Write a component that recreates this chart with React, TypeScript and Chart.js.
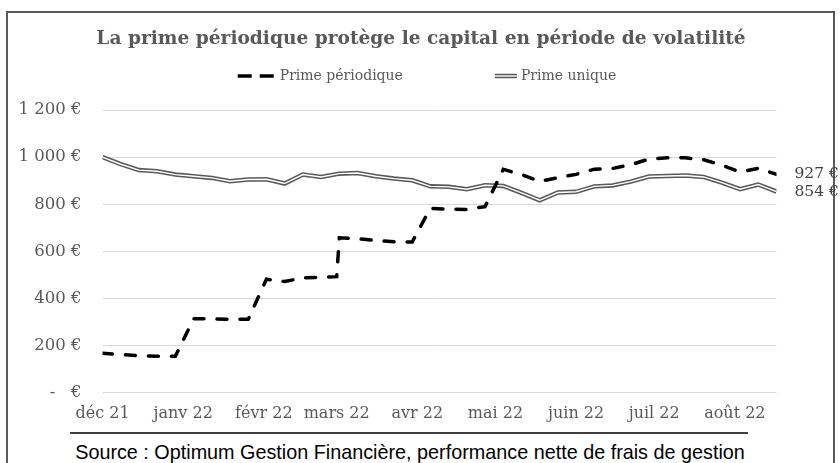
import React, { useEffect, useRef } from 'react';
import { Chart, registerables } from 'chart.js';

Chart.register(...registerables);

const TITLE = 'La prime périodique protège le capital en période de volatilité';
const SOURCE = 'Source : Optimum Gestion Financière, performance nette de frais de gestion';
const seriesNames = ['Prime périodique', 'Prime unique'];

const dates = [
  '2021-12-01', '2021-12-08', '2021-12-15', '2021-12-22', '2021-12-29',
  '2022-01-05', '2022-01-12', '2022-01-19', '2022-01-26',
  '2022-02-02', '2022-02-09', '2022-02-16', '2022-02-23',
  '2022-03-01', '2022-03-02', '2022-03-09', '2022-03-16', '2022-03-23', '2022-03-30',
  '2022-04-06', '2022-04-13', '2022-04-20', '2022-04-27',
  '2022-05-04', '2022-05-11', '2022-05-18', '2022-05-25',
  '2022-06-01', '2022-06-08', '2022-06-15', '2022-06-22', '2022-06-29',
  '2022-07-06', '2022-07-13', '2022-07-20', '2022-07-27',
  '2022-08-03', '2022-08-10', '2022-08-17',
];

const primePeriodique = [
  168, 162, 158, 155, 155,
  314, 314, 312, 312,
  482, 472, 488, 490,
  493, 658, 654, 646, 641, 640,
  783, 779, 778, 790,
  948, 926, 897, 913,
  927, 949, 952, 968, 992,
  997, 997, 989, 966,
  937, 953, 927,
];

const primeUnique = [
  1000, 970, 945, 940, 926,
  919, 912, 898, 905,
  906, 888, 926, 916,
  928, 930, 933, 919, 909, 902,
  876, 874, 864, 881,
  878, 848, 817, 850,
  853, 876, 880, 896, 918,
  920, 922, 916, 892,
  864, 884, 854,
];

const monthStarts = [
  '2021-12-01', '2022-01-01', '2022-02-01', '2022-03-01', '2022-04-01',
  '2022-05-01', '2022-06-01', '2022-07-01', '2022-08-01',
];
const monthLabels = ['déc 21', 'janv 22', 'févr 22', 'mars 22', 'avr 22', 'mai 22', 'juin 22', 'juil 22', 'août 22'];

const yTicks = [0, 200, 400, 600, 800, 1000, 1200];
const yTickLabels = ['-   €', '200 €', '400 €', '600 €', '800 €', '1 000 €', '1 200 €'];

const SERIF = '"DejaVu Serif", serif';
const GRAY = '#595959';
const DARK = '#404040';

const toDay = (s: string) => (Date.parse(s) - Date.parse(dates[0])) / 86400000;
const points = (vals: number[]) => dates.map((d, i) => ({ x: toDay(d), y: vals[i] }));

const endLabels = {
  id: 'endLabels',
  afterDatasetsDraw(chart: any) {
    const ctx = chart.ctx;
    ctx.save();
    ctx.font = `15.5px ${SERIF}`;
    ctx.fillStyle = DARK;
    ctx.textAlign = 'left';
    ctx.textBaseline = 'middle';
    [0, 2].forEach((di) => {
      const meta = chart.getDatasetMeta(di);
      const ds = chart.data.datasets[di];
      const last = meta.data[meta.data.length - 1];
      const v = ds.data[ds.data.length - 1].y;
      ctx.fillText(`${v} €`, last.x + 18, last.y);
    });
    ctx.restore();
  },
};

const customLegend = {
  id: 'customLegend',
  afterDraw(chart: any) {
    const ctx = chart.ctx;
    ctx.save();
    ctx.font = `14px ${SERIF}`;
    const y = 76;
    const sym1 = 38, sym2 = 22, gapText = 4, itemGap = 92;
    const w1 = ctx.measureText(seriesNames[0]).width;
    const w2 = ctx.measureText(seriesNames[1]).width;
    const total = sym1 + gapText + w1 + itemGap + sym2 + gapText + w2;
    let x = 427 - total / 2;
    ctx.strokeStyle = '#000';
    ctx.lineWidth = 3.5;
    ctx.setLineDash([14, 8]);
    ctx.beginPath();
    ctx.moveTo(x, y);
    ctx.lineTo(x + sym1, y);
    ctx.stroke();
    ctx.setLineDash([]);
    x += sym1 + gapText;
    ctx.fillStyle = GRAY;
    ctx.textAlign = 'left';
    ctx.textBaseline = 'middle';
    ctx.fillText(seriesNames[0], x, y);
    x += w1 + itemGap;
    ctx.strokeStyle = GRAY;
    ctx.lineWidth = 4.5;
    ctx.beginPath();
    ctx.moveTo(x, y);
    ctx.lineTo(x + sym2, y);
    ctx.stroke();
    ctx.strokeStyle = '#fff';
    ctx.lineWidth = 1.4;
    ctx.beginPath();
    ctx.moveTo(x, y);
    ctx.lineTo(x + sym2, y);
    ctx.stroke();
    x += sym2 + gapText;
    ctx.fillText(seriesNames[1], x, y);
    ctx.restore();
  },
};

export default function App() {
  const ref = useRef<HTMLCanvasElement | null>(null);

  useEffect(() => {
    if (!ref.current) return;
    const chart = new Chart(ref.current, {
      type: 'line',
      data: {
        datasets: [
          {
            label: seriesNames[0],
            data: points(primePeriodique),
            borderColor: '#000',
            borderWidth: 3.5,
            borderDash: [10, 13],
            borderCapStyle: 'round',
            pointRadius: 0,
            tension: 0,
            fill: false,
          },
          {
            label: seriesNames[1] + ' ',
            data: points(primeUnique),
            borderColor: '#ffffff',
            borderWidth: 1.4,
            pointRadius: 0,
            tension: 0,
            fill: false,
          },
          {
            label: seriesNames[1],
            data: points(primeUnique),
            borderColor: GRAY,
            borderWidth: 4.5,
            pointRadius: 0,
            tension: 0,
            fill: false,
          },
        ],
      },
      options: {
        responsive: false,
        animation: false,
        devicePixelRatio: 1,
        layout: { padding: { top: 0, left: 2, right: 0, bottom: 29 } },
        plugins: {
          legend: { display: false },
          tooltip: { enabled: false },
          title: {
            display: true,
            text: TITLE,
            color: GRAY,
            font: { family: SERIF, size: 18.6, weight: 'bold' },
            padding: { top: 27.6, bottom: 60.1 },
          },
        },
        scales: {
          x: {
            type: 'linear',
            min: 0,
            max: toDay(dates[dates.length - 1]),
            afterBuildTicks: (s: any) => {
              s.ticks = monthStarts.map((d) => ({ value: toDay(d) }));
            },
            ticks: {
              autoSkip: false,
              maxRotation: 0,
              padding: 11,
              color: GRAY,
              font: { family: SERIF, size: 16 },
              callback: (v: any) => {
                const i = monthStarts.findIndex((d) => toDay(d) === v);
                return i >= 0 ? monthLabels[i] : '';
              },
            },
            grid: { display: false, drawTicks: false },
            border: { display: false },
          },
          y: {
            type: 'linear',
            position: 'left',
            min: 0,
            max: 1200,
            afterBuildTicks: (s: any) => {
              s.ticks = yTicks.map((v) => ({ value: v }));
            },
            afterFit: (s: any) => {
              s.width = 100.5;
            },
            ticks: {
              padding: 21,
              color: GRAY,
              font: { family: SERIF, size: 16.5 },
              callback: (v: any) => yTickLabels[yTicks.indexOf(v)],
            },
            grid: { color: '#d9d9d9', lineWidth: 1, drawTicks: false },
            border: { display: false },
          },
          labelSpace: {
            type: 'linear',
            position: 'right',
            display: true,
            afterFit: (s: any) => {
              s.width = 63.5;
            },
            ticks: { display: false },
            grid: { display: false, drawTicks: false },
            border: { display: false },
          },
        },
      },
      plugins: [endLabels, customLegend],
    } as any);
    return () => chart.destroy();
  }, []);

  return (
    <div style={{ position: 'fixed', left: 0, top: 0, width: 840, height: 463, background: '#fff', overflow: 'hidden' }}>
      <div
        style={{
          position: 'absolute',
          left: 6,
          top: 11,
          width: 829,
          height: 480,
          border: '2px solid #595959',
          boxSizing: 'border-box',
        }}
      />
      <div style={{ position: 'absolute', left: 70, top: 432, width: 678, borderTop: '2px solid #404040' }} />
      <div
        style={{
          position: 'absolute',
          left: 0,
          top: 441,
          width: 820,
          textAlign: 'center',
          fontFamily: '"Liberation Sans", Arial, sans-serif',
          fontSize: 19.8,
          lineHeight: '22px',
          color: '#000',
          whiteSpace: 'nowrap',
        }}
      >
        {SOURCE}
      </div>
      <canvas ref={ref} width={840} height={463} style={{ position: 'absolute', left: 0, top: 0 }} />
    </div>
  );
}
